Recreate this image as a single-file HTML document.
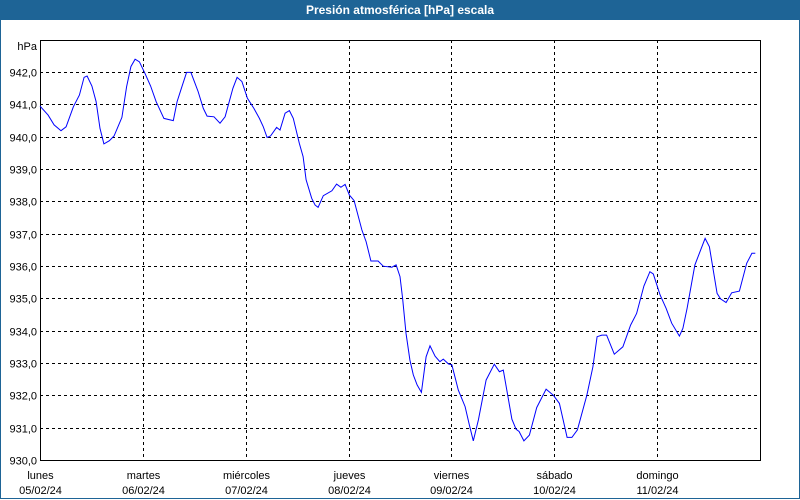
<!DOCTYPE html>
<html><head><meta charset="utf-8">
<style>
body{margin:0;background:#fff;}
#wrap{position:relative;width:800px;height:500px;overflow:hidden;background:#fff;font-family:"Liberation Sans",sans-serif;}
#title{position:absolute;left:0;top:0;width:800px;height:20px;background:#1e6496;color:#fff;font-weight:bold;font-size:12px;line-height:20px;text-align:center;}
#frame{position:absolute;left:0;top:20px;width:798px;height:478px;border:1px solid #1e6496;border-top:none;}
svg{position:absolute;left:0;top:0;}
text{font-family:"Liberation Sans",sans-serif;font-size:11px;fill:#000;}
</style></head><body>
<div id="wrap">
<div id="title">Presión atmosférica [hPa] escala</div>
<div id="frame"></div>
<svg id="svg" width="800" height="500"></svg>
</div>
<script>
const hours=[0,1.9,3.3,4.9,6.1,7.8,9.2,10.3,11.0,12.1,13.1,14.0,14.9,16.2,17.3,19.1,20.2,21.2,22.2,23.2,24.5,25.8,27.1,28.9,31.1,32.0,33.1,34.2,35.2,36.9,38.1,39.0,40.6,42.0,43.2,45.0,46.0,47.1,48.4,49.9,51.2,52.1,53.0,53.8,55.2,56.0,57.2,58.2,59.1,60.5,61.4,62.1,63.4,64.2,64.9,66.1,68.1,69.2,70.2,71.2,72.2,73.3,75.1,76.1,77.2,78.9,80.1,82.1,83.1,84.0,84.6,85.4,86.3,87.1,88.0,89.0,90.1,91.0,92.2,93.3,94.1,95.3,96.1,97.6,99.2,100.2,101.1,102.3,104.1,106.0,107.2,108.1,110.1,111.1,111.8,112.9,114.2,115.9,118.1,119.8,121.2,123.0,124.1,125.4,127.6,129.0,130.0,131.1,132.2,134.0,136.0,137.8,139.2,140.9,142.3,143.1,144.7,146.1,147.4,149.2,150.0,151.0,152.8,155.2,156.2,158.0,158.8,160.1,161.4,163.2,164.9,166.1,166.9];
const pressure=[940.94,940.66,940.36,940.18,940.30,940.92,941.28,941.83,941.87,941.56,941.08,940.25,939.77,939.87,940.02,940.59,941.54,942.16,942.39,942.31,941.95,941.56,941.08,940.56,940.49,941.08,941.54,941.98,941.98,941.39,940.87,940.63,940.61,940.41,940.61,941.49,941.83,941.70,941.18,940.87,940.56,940.30,939.97,940.02,940.28,940.20,940.72,940.80,940.56,939.79,939.38,938.66,938.09,937.88,937.81,938.17,938.32,938.53,938.43,938.52,938.19,938.02,937.11,936.75,936.15,936.15,935.99,935.96,936.03,935.67,935.00,933.92,933.09,932.63,932.32,932.09,933.19,933.53,933.21,933.04,933.12,932.97,932.94,932.16,931.65,931.08,930.59,931.24,932.47,932.96,932.73,932.78,931.26,930.95,930.88,930.59,930.77,931.62,932.19,932.00,931.75,930.70,930.70,930.93,932.01,932.88,933.81,933.86,933.86,933.27,933.50,934.17,934.53,935.38,935.82,935.75,935.10,934.69,934.23,933.83,934.07,934.69,936.03,936.85,936.59,935.15,934.98,934.87,935.17,935.22,936.08,936.39,936.39];
const yTicks=["930,0","931,0","932,0","933,0","934,0","935,0","936,0","937,0","938,0","939,0","940,0","941,0","942,0"];
const dayNames=["lunes","martes","miércoles","jueves","viernes","sábado","domingo"];
const dayDates=["05/02/24","06/02/24","07/02/24","08/02/24","09/02/24","10/02/24","11/02/24"];
const X0=40,X1=760,Y0=40,Y1=460,VMIN=930,VMAX=943-0.02,HMAX=168;
function xs(h){return X0+(h/HMAX)*(X1-X0);}
function ys(v){return Y1-(v-VMIN)*32.35;}
const NS="http://www.w3.org/2000/svg";
const svg=document.getElementById('svg');
function mk(tag,attrs){const e=document.createElementNS(NS,tag);for(const k in attrs)e.setAttribute(k,attrs[k]);svg.appendChild(e);return e;}
yTicks.forEach((t,i)=>{
  const v=VMIN+i, y=Math.round(ys(v))+0.5;
  if(i>0){const g=mk('line',{x1:X0,x2:X1,y1:y,y2:y,stroke:'#000','stroke-dasharray':'3,3','stroke-width':1});
  
  }
  const tx=mk('text',{x:37,y:y+4,'text-anchor':'end'});tx.textContent=t;
  
  
});
dayNames.forEach((d,i)=>{
  const x=Math.round(xs(i*24))+0.5;
  if(i>0){const g=mk('line',{x1:x,x2:x,y1:Y0,y2:Y1,stroke:'#000','stroke-dasharray':'3,3','stroke-width':1});
  
  }
  const t1=mk('text',{x:x,y:479,'text-anchor':'middle'});t1.textContent=d;
  
  
  const t2=mk('text',{x:x,y:494,'text-anchor':'middle'});t2.textContent=dayDates[i];
  
  
});
const ax=mk('rect',{x:X0+0.5,y:Y0+0.5,width:X1-X0,height:Y1-Y0,fill:'none',stroke:'#000','stroke-width':1});


const unit=mk('text',{x:37,y:50,'text-anchor':'end'});unit.textContent='hPa';


const pts=hours.map((h,i)=>xs(h).toFixed(1)+','+ys(pressure[i]).toFixed(1)).join(' ');
const line=mk('polyline',{points:pts,fill:'none',stroke:'#0000ff','stroke-width':1});


</script>
</body></html>
